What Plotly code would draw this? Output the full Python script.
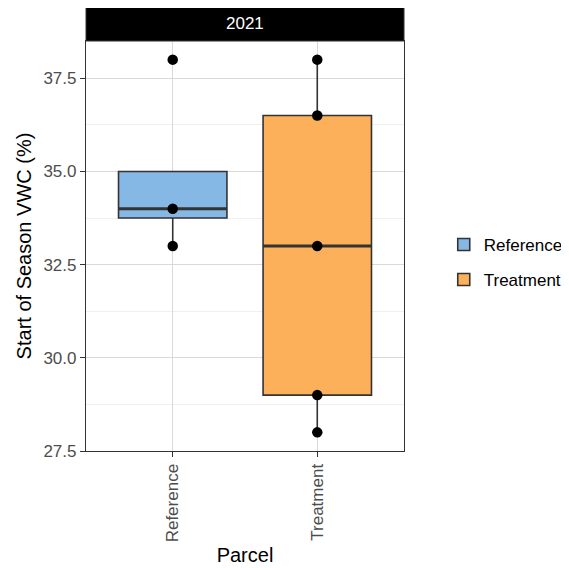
import plotly.graph_objects as go

categories = ["Reference", "Treatment"]
q1 = [33.75, 29.0]
median = [34.0, 33.0]
q3 = [35.0, 36.5]
lower = [33.0, 28.0]
upper = [35.0, 38.0]
points_ref = [38.0, 34.0, 33.0]
points_trt = [38.0, 36.5, 33.0, 29.0, 28.0]
fill_colors = ["#85B8E5", "#FCB05A"]
facet_label = "2021"
y_ticks = [27.5, 30.0, 32.5, 35.0, 37.5]

fig = go.Figure()
xs = [1, 2]
bw = 0.75
for i, cat in enumerate(categories):
    fig.add_trace(go.Box(
        x=[xs[i]], q1=[q1[i]], median=[median[i]], q3=[q3[i]],
        lowerfence=[lower[i]], upperfence=[upper[i]],
        name=cat, fillcolor=fill_colors[i], legendgroup=cat,
        line=dict(color="#333333", width=1.6),
        width=bw, whiskerwidth=0, boxpoints=False, showlegend=True,
        hoverinfo="skip",
    ))
for i, cat in enumerate(categories):
    fig.add_trace(go.Scatter(
        x=[xs[i] - bw / 2, xs[i] + bw / 2], y=[median[i], median[i]],
        mode="lines", line=dict(color="#333333", width=3.2),
        showlegend=False, hoverinfo="skip",
    ))
for i, pts in enumerate([points_ref, points_trt]):
    fig.add_trace(go.Scatter(
        x=[xs[i]] * len(pts), y=pts, mode="markers",
        marker=dict(color="black", size=10.5),
        showlegend=False, hoverinfo="skip",
    ))

font_family = "Liberation Sans, Arial, sans-serif"
fig.update_layout(
    width=561, height=560,
    margin=dict(l=78, r=165, t=33, b=117, autoexpand=False),
    paper_bgcolor="white", plot_bgcolor="white",
    font=dict(family=font_family),
    showlegend=True,
    legend=dict(x=1.125, y=0.46, xanchor="left", yanchor="middle",
                font=dict(size=17, color="black"), bgcolor="rgba(0,0,0,0)",
                tracegroupgap=10),
    xaxis=dict(
        range=[0.4, 2.6], tickmode="array", tickvals=xs, ticktext=categories,
        tickangle=-90, showgrid=True, gridcolor="#d9d9d9", gridwidth=1,
        zeroline=False, showline=True, linecolor="#333333", linewidth=1.2,
        mirror=True, ticks="outside", ticklen=5, tickcolor="#333333",
        tickfont=dict(size=17, color="#4d4d4d"), automargin=False,
        title=dict(text="Parcel", font=dict(size=20, color="black"), standoff=6),
    ),
    yaxis=dict(
        range=[27.5, 38.5], tickmode="array", tickvals=y_ticks,
        ticktext=[f"{v:.1f}" for v in y_ticks],
        showgrid=True, gridcolor="#d9d9d9", gridwidth=1, zeroline=False,
        showline=True, linecolor="#333333", linewidth=1.2, mirror=True,
        ticks="outside", ticklen=5, tickcolor="#333333",
        tickfont=dict(size=17, color="#4d4d4d"), automargin=False,
        minor=dict(showgrid=True, gridcolor="#efefef", tick0=28.75, dtick=2.5),
        title=dict(text="Start of Season VWC (%)", font=dict(size=20, color="black"), standoff=6),
    ),
    shapes=[dict(type="rect", xref="paper", yref="paper", x0=0, x1=1,
                 y0=1.0, y1=1.085, fillcolor="black",
                 line=dict(color="#333333", width=1))],
    annotations=[dict(text=facet_label, xref="paper", yref="paper", x=0.5,
                      y=1.0425, yanchor="middle", showarrow=False,
                      font=dict(size=17, color="white"))],
)

fig.write_html("out.html")
